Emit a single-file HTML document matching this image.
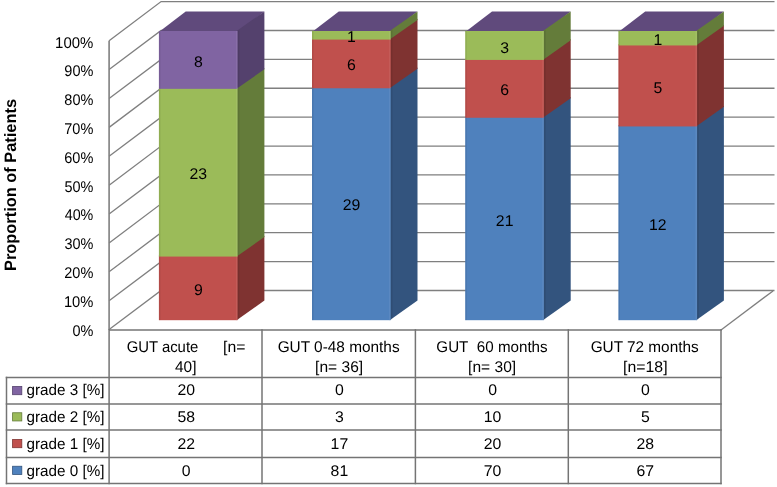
<!DOCTYPE html>
<html><head><meta charset="utf-8"><style>
html,body{margin:0;padding:0;background:#fff;}
body{width:777px;height:487px;position:relative;overflow:hidden;font-family:"Liberation Sans", sans-serif;}
</style></head><body>
<svg width="777" height="487" viewBox="0 0 777 487" font-family='"Liberation Sans", sans-serif' fill="#000" text-rendering="geometricPrecision" style="position:absolute;left:0;top:0;will-change:transform">
<polyline points="109.1,329.60 161.1,290.50 774.5,290.50" fill="none" stroke="#7f7f7f" stroke-width="1.3"/>
<polyline points="109.1,300.71 161.1,261.61 774.5,261.61" fill="none" stroke="#7f7f7f" stroke-width="1.3"/>
<polyline points="109.1,271.82 161.1,232.72 774.5,232.72" fill="none" stroke="#7f7f7f" stroke-width="1.3"/>
<polyline points="109.1,242.93 161.1,203.83 774.5,203.83" fill="none" stroke="#7f7f7f" stroke-width="1.3"/>
<polyline points="109.1,214.04 161.1,174.94 774.5,174.94" fill="none" stroke="#7f7f7f" stroke-width="1.3"/>
<polyline points="109.1,185.15 161.1,146.05 774.5,146.05" fill="none" stroke="#7f7f7f" stroke-width="1.3"/>
<polyline points="109.1,156.26 161.1,117.16 774.5,117.16" fill="none" stroke="#7f7f7f" stroke-width="1.3"/>
<polyline points="109.1,127.37 161.1,88.27 774.5,88.27" fill="none" stroke="#7f7f7f" stroke-width="1.3"/>
<polyline points="109.1,98.48 161.1,59.38 774.5,59.38" fill="none" stroke="#7f7f7f" stroke-width="1.3"/>
<polyline points="109.1,69.59 161.1,30.49 774.5,30.49" fill="none" stroke="#7f7f7f" stroke-width="1.3"/>
<polyline points="109.1,40.70 161.1,1.60 774.5,1.60" fill="none" stroke="#7f7f7f" stroke-width="1.3"/>
<line x1="721" y1="330" x2="773.0" y2="290.9" stroke="#7f7f7f" stroke-width="1.3"/>
<polygon points="158.9,32.00 238.60000000000002,32.00 264.40,11.40 185.70,11.40" fill="#604A7C"/>
<polygon points="236.60000000000002,320.20 236.60000000000002,255.38 264.40,235.78 264.40,300.60" fill="#7F3331"/>
<polygon points="236.60000000000002,256.58 236.60000000000002,87.64 264.40,68.04 264.40,236.98" fill="#647C3A"/>
<polygon points="236.60000000000002,88.84 236.60000000000002,31.00 264.40,11.40 264.40,69.24" fill="#54416D"/>
<rect x="158.9" y="255.38" width="78.7" height="64.82" fill="#C0504D"/>
<rect x="158.9" y="87.64" width="78.7" height="168.94" fill="#9BBB59"/>
<rect x="158.9" y="31.00" width="78.7" height="57.84" fill="#8064A2"/>
<rect x="158.9" y="31.00" width="1.6" height="289.20" fill="#000" fill-opacity="0.07"/>
<rect x="236.00" y="31.00" width="1.6" height="289.20" fill="#fff" fill-opacity="0.07"/>
<polygon points="237.60,320.20 237.60,31.00 239.40,29.68 239.40,318.88" fill="#000" fill-opacity="0.08"/>
<text transform="translate(198.35,294.82) scale(1.02,1)" text-anchor="middle" font-size="15.5">9</text>
<text transform="translate(198.35,178.78) scale(1.02,1)" text-anchor="middle" font-size="15.5">23</text>
<text transform="translate(198.35,66.78) scale(1.02,1)" text-anchor="middle" font-size="15.5">8</text>
<polygon points="312.0,32.00 391.7,32.00 417.50,11.40 338.80,11.40" fill="#604A7C"/>
<polygon points="389.7,320.20 389.7,87.07 417.50,67.47 417.50,300.60" fill="#33547E"/>
<polygon points="389.7,88.27 389.7,38.39 417.50,18.79 417.50,68.67" fill="#7F3331"/>
<polygon points="389.7,39.59 389.7,31.00 417.50,11.40 417.50,19.99" fill="#647C3A"/>
<rect x="312.0" y="87.07" width="78.7" height="233.13" fill="#4F81BD"/>
<rect x="312.0" y="38.39" width="78.7" height="49.88" fill="#C0504D"/>
<rect x="312.0" y="31.00" width="78.7" height="8.59" fill="#9BBB59"/>
<rect x="312.0" y="31.00" width="1.6" height="289.20" fill="#000" fill-opacity="0.07"/>
<rect x="389.10" y="31.00" width="1.6" height="289.20" fill="#fff" fill-opacity="0.07"/>
<polygon points="390.70,320.20 390.70,31.00 392.50,29.68 392.50,318.88" fill="#000" fill-opacity="0.08"/>
<text transform="translate(351.45,209.68) scale(1.02,1)" text-anchor="middle" font-size="15.5">29</text>
<text transform="translate(351.45,70.08) scale(1.02,1)" text-anchor="middle" font-size="15.5">6</text>
<text transform="translate(351.45,41.92) scale(1.02,1)" text-anchor="middle" font-size="15.5">1</text>
<polygon points="465.2,32.00 544.9,32.00 570.70,11.40 492.00,11.40" fill="#604A7C"/>
<polygon points="542.9,320.20 542.9,116.56 570.70,96.96 570.70,300.60" fill="#33547E"/>
<polygon points="542.9,117.76 542.9,58.72 570.70,39.12 570.70,98.16" fill="#7F3331"/>
<polygon points="542.9,59.92 542.9,31.00 570.70,11.40 570.70,40.32" fill="#647C3A"/>
<rect x="465.2" y="116.56" width="78.7" height="203.64" fill="#4F81BD"/>
<rect x="465.2" y="58.72" width="78.7" height="59.04" fill="#C0504D"/>
<rect x="465.2" y="31.00" width="78.7" height="28.92" fill="#9BBB59"/>
<rect x="465.2" y="31.00" width="1.6" height="289.20" fill="#000" fill-opacity="0.07"/>
<rect x="542.30" y="31.00" width="1.6" height="289.20" fill="#fff" fill-opacity="0.07"/>
<polygon points="543.90,320.20 543.90,31.00 545.70,29.68 545.70,318.88" fill="#000" fill-opacity="0.08"/>
<text transform="translate(504.65,225.68) scale(1.02,1)" text-anchor="middle" font-size="15.5">21</text>
<text transform="translate(504.65,94.83) scale(1.02,1)" text-anchor="middle" font-size="15.5">6</text>
<text transform="translate(504.65,52.67) scale(1.02,1)" text-anchor="middle" font-size="15.5">3</text>
<polygon points="618.4,32.00 698.1,32.00 723.90,11.40 645.20,11.40" fill="#604A7C"/>
<polygon points="696.1,320.20 696.1,125.24 723.90,105.64 723.90,300.60" fill="#33547E"/>
<polygon points="696.1,126.44 696.1,44.26 723.90,24.66 723.90,106.84" fill="#7F3331"/>
<polygon points="696.1,45.46 696.1,31.00 723.90,11.40 723.90,25.86" fill="#647C3A"/>
<rect x="618.4" y="125.24" width="78.7" height="194.96" fill="#4F81BD"/>
<rect x="618.4" y="44.26" width="78.7" height="82.18" fill="#C0504D"/>
<rect x="618.4" y="31.00" width="78.7" height="14.46" fill="#9BBB59"/>
<rect x="618.4" y="31.00" width="1.6" height="289.20" fill="#000" fill-opacity="0.07"/>
<rect x="695.50" y="31.00" width="1.6" height="289.20" fill="#fff" fill-opacity="0.07"/>
<polygon points="697.10,320.20 697.10,31.00 698.90,29.68 698.90,318.88" fill="#000" fill-opacity="0.08"/>
<text transform="translate(657.85,229.62) scale(1.02,1)" text-anchor="middle" font-size="15.5">12</text>
<text transform="translate(657.85,92.62) scale(1.02,1)" text-anchor="middle" font-size="15.5">5</text>
<text transform="translate(657.85,45.02) scale(1.02,1)" text-anchor="middle" font-size="15.5">1</text>
<text transform="translate(72.42,335.50) scale(0.9324,1)" font-size="15.5">0%</text>
<text transform="translate(63.90,306.72) scale(0.9490,1)" font-size="15.5">10%</text>
<text transform="translate(64.27,277.94) scale(0.9366,1)" font-size="15.5">20%</text>
<text transform="translate(64.42,249.16) scale(0.9317,1)" font-size="15.5">30%</text>
<text transform="translate(64.71,220.38) scale(0.9221,1)" font-size="15.5">40%</text>
<text transform="translate(64.42,191.60) scale(0.9317,1)" font-size="15.5">50%</text>
<text transform="translate(64.27,162.82) scale(0.9366,1)" font-size="15.5">60%</text>
<text transform="translate(64.27,134.04) scale(0.9366,1)" font-size="15.5">70%</text>
<text transform="translate(64.35,105.26) scale(0.9341,1)" font-size="15.5">80%</text>
<text transform="translate(64.35,76.48) scale(0.9341,1)" font-size="15.5">90%</text>
<text transform="translate(55.08,47.70) scale(0.9638,1)" font-size="15.5">100%</text>
<g transform="translate(15.5,0) rotate(-90)">
<text transform="translate(-271.00,0) scale(0.9929,1)" font-size="16.5" font-weight="bold">Proportion of Patients</text>
</g>
<g stroke="#747474" stroke-width="1.5">
<line x1="109.1" y1="40.70" x2="109.1" y2="329.9" stroke="#7f7f7f" stroke-width="1.6"/>
<line x1="109.1" y1="329.15" x2="109.1" y2="484.25"/>
<line x1="109.1" y1="329.9" x2="721.75" y2="329.9"/>
<line x1="262.0" y1="329.15" x2="262.0" y2="484.25"/>
<line x1="415.4" y1="329.15" x2="415.4" y2="484.25"/>
<line x1="568.3" y1="329.15" x2="568.3" y2="484.25"/>
<line x1="721.0" y1="329.15" x2="721.0" y2="484.25"/>
<line x1="5.75" y1="377.5" x2="721.75" y2="377.5"/>
<line x1="5.75" y1="403.9" x2="721.75" y2="403.9"/>
<line x1="5.75" y1="430.0" x2="721.75" y2="430.0"/>
<line x1="5.75" y1="457.4" x2="721.75" y2="457.4"/>
<line x1="5.75" y1="483.5" x2="721.75" y2="483.5"/>
<line x1="6.5" y1="376.75" x2="6.5" y2="484.25"/>
</g>
<text transform="translate(126.66,352.00) scale(0.9595,1)" font-size="15.5">GUT acute</text>
<text transform="translate(223.10,352.00) scale(1.0174,1)" font-size="15.5">[n=</text>
<text transform="translate(174.99,372.10) scale(0.9964,1)" font-size="15.5">40]</text>
<text transform="translate(277.63,352.00) scale(0.9926,1)" font-size="15.5">GUT 0-48 months</text>
<text transform="translate(315.11,372.10) scale(1.0033,1)" font-size="15.5">[n= 36]</text>
<text transform="translate(436.34,352.00) scale(0.9789,1)" font-size="15.5">GUT&#160;&#160;60 months</text>
<text transform="translate(468.11,372.10) scale(1.0033,1)" font-size="15.5">[n= 30]</text>
<text transform="translate(590.63,352.00) scale(0.9898,1)" font-size="15.5">GUT 72 months</text>
<text transform="translate(623.09,372.10) scale(1.0216,1)" font-size="15.5">[n=18]</text>
<rect x="12.6" y="386.50" width="9.2" height="8.2" fill="#8064A2" stroke="#54416D" stroke-width="0.8"/>
<text transform="translate(26.49,395.12) scale(0.9832,1)" font-size="15.5">grade 3 [%]</text>
<text transform="translate(186.25,395.12) scale(1.02,1)" text-anchor="middle" font-size="15.5">20</text>
<text transform="translate(339.40,395.12) scale(1.02,1)" text-anchor="middle" font-size="15.5">0</text>
<text transform="translate(492.55,395.12) scale(1.02,1)" text-anchor="middle" font-size="15.5">0</text>
<text transform="translate(645.35,395.12) scale(1.02,1)" text-anchor="middle" font-size="15.5">0</text>
<rect x="12.6" y="412.75" width="9.2" height="8.2" fill="#9BBB59" stroke="#647C3A" stroke-width="0.8"/>
<text transform="translate(26.49,421.68) scale(0.9832,1)" font-size="15.5">grade 2 [%]</text>
<text transform="translate(186.25,421.68) scale(1.02,1)" text-anchor="middle" font-size="15.5">58</text>
<text transform="translate(339.40,421.68) scale(1.02,1)" text-anchor="middle" font-size="15.5">3</text>
<text transform="translate(492.55,421.68) scale(1.02,1)" text-anchor="middle" font-size="15.5">10</text>
<text transform="translate(645.35,421.68) scale(1.02,1)" text-anchor="middle" font-size="15.5">5</text>
<rect x="12.6" y="439.50" width="9.2" height="8.2" fill="#C0504D" stroke="#7F3331" stroke-width="0.8"/>
<text transform="translate(26.49,448.73) scale(0.9832,1)" font-size="15.5">grade 1 [%]</text>
<text transform="translate(186.25,448.73) scale(1.02,1)" text-anchor="middle" font-size="15.5">22</text>
<text transform="translate(339.40,448.73) scale(1.02,1)" text-anchor="middle" font-size="15.5">17</text>
<text transform="translate(492.55,448.73) scale(1.02,1)" text-anchor="middle" font-size="15.5">20</text>
<text transform="translate(645.35,448.73) scale(1.02,1)" text-anchor="middle" font-size="15.5">28</text>
<rect x="12.6" y="466.25" width="9.2" height="8.2" fill="#4F81BD" stroke="#33547E" stroke-width="0.8"/>
<text transform="translate(26.49,475.73) scale(0.9832,1)" font-size="15.5">grade 0 [%]</text>
<text transform="translate(186.25,475.73) scale(1.02,1)" text-anchor="middle" font-size="15.5">0</text>
<text transform="translate(339.40,475.73) scale(1.02,1)" text-anchor="middle" font-size="15.5">81</text>
<text transform="translate(492.55,475.73) scale(1.02,1)" text-anchor="middle" font-size="15.5">70</text>
<text transform="translate(645.35,475.73) scale(1.02,1)" text-anchor="middle" font-size="15.5">67</text>
</svg>
</body></html>
